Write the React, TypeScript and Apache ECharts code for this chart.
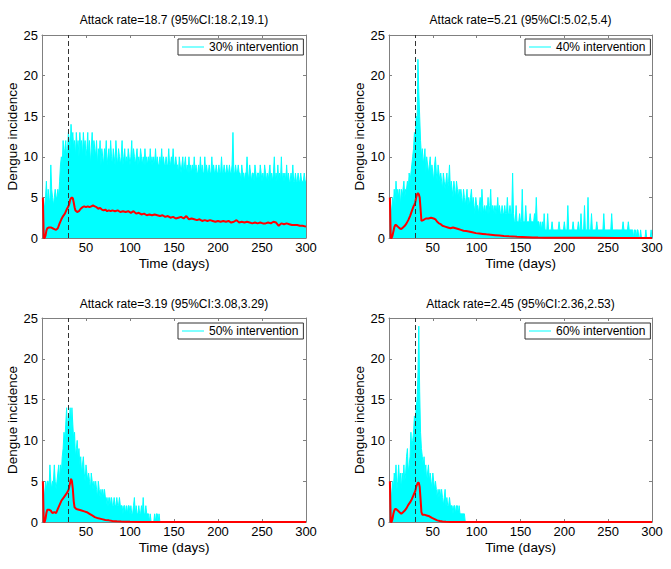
import React, { useEffect, useRef } from "react";
import * as echarts from "echarts";

// ---------- data ----------
const titles = [
  "Attack rate=18.7 (95%CI:18.2,19.1)",
  "Attack rate=5.21 (95%CI:5.02,5.4)",
  "Attack rate=3.19 (95%CI:3.08,3.29)",
  "Attack rate=2.45 (95%CI:2.36,2.53)",
];
const legendNames = ["30% intervention", "40% intervention", "50% intervention", "60% intervention"];
const xTicks = [50, 100, 150, 200, 250, 300];
const yTicks = [0, 5, 10, 15, 20, 25];
const interventionDay = 30;

// daily maximum across simulations (upper edge of the cyan band), day 1..n
const envelope30 = [
  5, 4, 4, 5, 7, 4, 6, 5, 4, 9,
  6, 5, 4, 5, 6, 5, 5, 6, 5, 7,
  9, 10, 9, 12, 10, 11, 12, 10, 11, 13,
  12, 11, 14, 12, 13, 11, 12, 10, 13, 11,
  12, 10, 13, 11, 12, 10, 13, 11, 12, 10,
  11, 13, 10, 12, 9, 11, 13, 10, 12, 11,
  10, 12, 9, 11, 10, 12, 9, 11, 10, 9,
  11, 10, 12, 9, 10, 11, 9, 12, 10, 9,
  11, 10, 9, 12, 10, 9, 11, 10, 9, 10,
  12, 9, 10, 11, 9, 10, 9, 11, 10, 9,
  10, 12, 9, 11, 10, 9, 10, 11, 9, 10,
  9, 11, 10, 9, 10, 9, 11, 9, 10, 9,
  10, 9, 11, 9, 10, 9, 10, 9, 11, 9,
  10, 9, 9, 10, 9, 11, 9, 10, 9, 9,
  10, 9, 9, 11, 9, 9, 10, 9, 11, 9,
  9, 10, 9, 9, 8, 10, 9, 8, 9, 10,
  8, 9, 10, 8, 9, 8, 10, 8, 9, 8,
  9, 8, 10, 8, 9, 8, 8, 9, 8, 10,
  8, 9, 8, 8, 10, 8, 9, 8, 8, 9,
  8, 8, 10, 8, 9, 8, 8, 9, 8, 8,
  9, 8, 8, 10, 8, 8, 9, 8, 8, 9,
  8, 8, 9, 8, 8, 9, 13, 8, 8, 9,
  8, 8, 9, 8, 8, 7, 9, 8, 8, 7,
  8, 8, 10, 8, 7, 9, 8, 7, 8, 8,
  7, 9, 8, 7, 8, 8, 7, 9, 8, 7,
  8, 7, 9, 8, 7, 8, 7, 8, 9, 7,
  8, 7, 8, 10, 7, 8, 7, 9, 7, 8,
  7, 10, 7, 8, 7, 8, 7, 9, 7, 8,
  7, 7, 8, 7, 9, 7, 7, 8, 7, 7,
  8, 7, 7, 8, 7, 7, 7, 8, 7, 7,
];
const envelope40 = [
  5, 4, 3, 5, 4, 6, 4, 7, 5, 6,
  5, 6, 4, 6, 5, 6, 7, 5, 6, 6,
  7, 6, 8, 7, 8, 9, 10, 11, 13, 12,
  15, 14, 22, 18, 15, 12, 10, 11, 9, 10,
  11, 8, 10, 9, 8, 9, 10, 8, 9, 8,
  7, 9, 10, 8, 7, 9, 8, 7, 8, 7,
  6, 8, 7, 6, 7, 8, 6, 7, 9, 6,
  7, 6, 5, 7, 6, 5, 7, 6, 5, 6,
  5, 6, 5, 4, 6, 5, 4, 5, 6, 4,
  5, 4, 5, 6, 4, 5, 4, 3, 5, 4,
  4, 3, 4, 5, 3, 6, 4, 3, 4, 3,
  4, 3, 5, 3, 4, 6, 3, 4, 3, 4,
  3, 4, 3, 5, 3, 4, 3, 3, 4, 3,
  3, 4, 3, 3, 5, 3, 3, 4, 3, 3,
  8, 3, 2, 2, 4, 2, 2, 2, 3, 2,
  2, 6, 2, 2, 2, 4, 2, 2, 2, 2,
  3, 2, 2, 2, 2, 3, 2, 5, 2, 2,
  2, 1, 2, 1, 2, 1, 3, 1, 1, 1,
  3, 1, 1, 1, 1, 2, 1, 1, 1, 1,
  1, 1, 1, 2, 1, 1, 1, 1, 1, 2,
  1, 1, 1, 4, 1, 1, 1, 1, 1, 2,
  1, 1, 1, 1, 1, 2, 1, 1, 3, 1,
  1, 1, 4, 1, 1, 1, 5, 1, 1, 1,
  3, 1, 1, 1, 1, 1, 2, 1, 1, 1,
  1, 1, 1, 1, 3, 1, 1, 1, 1, 1,
  1, 1, 1, 3, 1, 1, 1, 1, 1, 1,
  1, 1, 1, 1, 1, 1, 2, 1, 1, 1,
  1, 1, 2, 1, 1, 1, 1, 1, 0, 1,
  1, 0, 1, 1, 0, 0, 1, 0, 0, 0,
  0, 0, 1, 0, 0, 0, 0, 0, 1, 0,
];
const envelope50 = [
  5, 4, 3, 5, 4, 5, 5, 4, 7, 5,
  4, 5, 5, 7, 5, 4, 5, 6, 7, 5,
  7, 6, 8, 9, 11, 10, 12, 14, 11, 13,
  12, 14, 11, 14, 12, 10, 11, 8, 9, 10,
  8, 9, 7, 8, 6, 7, 8, 6, 5, 7,
  6, 5, 6, 5, 4, 6, 5, 4, 5, 4,
  5, 4, 3, 5, 4, 3, 4, 3, 4, 3,
  4, 3, 3, 2, 3, 2, 3, 2, 3, 2,
  2, 3, 2, 2, 3, 2, 2, 3, 2, 2,
  2, 1, 2, 2, 1, 2, 1, 2, 2, 1,
  2, 1, 1, 2, 3, 1, 2, 1, 1, 2,
  1, 1, 2, 1, 3, 1, 1, 2, 1, 1,
  1, 0, 1, 0, 0, 0, 0, 1, 0, 1,
  1, 0, 1, 0, 0,
];
const envelope60 = [
  5, 4, 3, 5, 4, 6, 5, 7, 4, 5,
  7, 5, 6, 4, 6, 5, 7, 5, 6, 8,
  9, 6, 7, 8, 11, 9, 10, 11, 13, 12,
  14, 15, 18, 24, 16, 11, 9, 8, 7, 8,
  6, 7, 5, 6, 7, 5, 6, 5, 4, 6,
  5, 4, 5, 4, 3, 4, 3, 4, 3, 4,
  3, 2, 3, 4, 2, 3, 2, 2, 3, 2,
  2, 2, 1, 2, 2, 1, 2, 2, 1, 2,
  1, 1, 1, 1, 1, 1, 0,
];

// mean incidence (red line), [day, value]
const mean30 = [
  [1, 5], [2, 0], [3, 0], [4, 0.3], [5, 0.9], [6, 1.2], [8, 1.3], [10, 1.3], [12, 1.2], [14, 1.1],
  [16, 1.0], [18, 1.2], [20, 1.8], [22, 2.3], [24, 2.7], [26, 3.0], [28, 3.5], [30, 3.9], [31, 4.2],
  [32, 4.7], [33, 4.9], [34, 5.0], [35, 4.9], [36, 4.4], [37, 3.8], [38, 3.4], [40, 3.2], [42, 3.3],
  [44, 3.6], [46, 3.8], [48, 3.9], [50, 3.8], [52, 3.9], [54, 3.8], [56, 3.9], [58, 4.0], [60, 3.9],
  [62, 3.8], [64, 3.6], [66, 3.7], [68, 3.5], [70, 3.4], [72, 3.5], [74, 3.3], [76, 3.4], [78, 3.3],
  [80, 3.4], [83, 3.3], [86, 3.4], [89, 3.2], [92, 3.3], [95, 3.2], [98, 3.3], [101, 3.1], [104, 3.3],
  [107, 3.0], [110, 3.1], [113, 2.9], [116, 3.0], [119, 2.8], [122, 2.9], [125, 2.8], [128, 2.9],
  [131, 2.8], [134, 2.7], [137, 2.8], [140, 2.6], [143, 2.7], [146, 2.5], [149, 2.6], [152, 2.4],
  [155, 2.5], [158, 2.6], [161, 2.4], [164, 2.7], [167, 2.3], [170, 2.4], [173, 2.3], [176, 2.2],
  [179, 2.3], [182, 2.1], [185, 2.2], [188, 2.1], [191, 2.2], [194, 2.1], [197, 2.0], [200, 2.1],
  [203, 2.0], [206, 2.1], [209, 2.0], [212, 2.1], [215, 1.9], [218, 2.0], [221, 2.2], [224, 1.9],
  [227, 2.0], [230, 1.9], [233, 2.0], [236, 1.9], [239, 1.8], [242, 1.9], [245, 1.8], [248, 1.9],
  [251, 1.8], [254, 1.8], [257, 1.9], [260, 1.8], [263, 2.0], [266, 1.9], [269, 1.5], [272, 1.8],
  [275, 1.7], [278, 1.8], [281, 1.7], [284, 1.6], [287, 1.6], [290, 1.6], [293, 1.5], [296, 1.5],
  [300, 1.4],
];
const mean40 = [
  [1, 5], [2, 0], [3, 0], [4, 0.3], [5, 0.8], [6, 1.3], [7, 1.6], [8, 1.6], [9, 1.5], [10, 1.4],
  [12, 1.2], [14, 1.1], [16, 1.3], [18, 1.5], [20, 1.8], [22, 2.2], [24, 2.7], [26, 3.3], [28, 3.9],
  [29, 4.1], [30, 4.4], [31, 5.0], [32, 5.4], [33, 5.5], [34, 5.4], [35, 5.0], [36, 3.6], [37, 2.1],
  [39, 2.2], [42, 2.4], [45, 2.4], [48, 2.5], [51, 2.4], [53, 2.3], [55, 2.0], [57, 1.8], [59, 1.7],
  [61, 1.5], [64, 1.4], [67, 1.3], [70, 1.2], [73, 1.3], [76, 1.2], [79, 1.1], [82, 1.0], [85, 0.9],
  [88, 0.85], [91, 0.8], [95, 0.7], [99, 0.6], [103, 0.55], [107, 0.5], [111, 0.45], [116, 0.4],
  [121, 0.35], [126, 0.3], [131, 0.25], [136, 0.22], [141, 0.2], [146, 0.15], [152, 0.13], [158, 0.1],
  [164, 0.07], [170, 0.05], [178, 0.04], [186, 0.03], [200, 0.02], [230, 0.02], [260, 0.01], [300, 0.01],
];
const mean50 = [
  [1, 5], [2, 0], [3, 0], [4, 0.4], [5, 1.1], [6, 1.5], [8, 1.5], [10, 1.4], [11, 1.2], [12, 1.1],
  [14, 1.2], [16, 1.1], [18, 1.6], [20, 2.1], [22, 2.6], [24, 2.9], [26, 3.2], [28, 3.5], [30, 3.9],
  [31, 4.3], [32, 4.8], [33, 5.3], [34, 5.0], [35, 4.1], [36, 2.6], [37, 1.8], [39, 1.6], [42, 1.5],
  [45, 1.4], [48, 1.3], [51, 1.2], [54, 1.0], [57, 0.8], [60, 0.6], [64, 0.45], [68, 0.35], [72, 0.25],
  [76, 0.2], [80, 0.12], [85, 0.08], [90, 0.05], [95, 0.03], [100, 0.02], [110, 0.01], [130, 0.005],
  [140, 0], [300, 0],
];
const mean60 = [
  [1, 5], [2, 0], [3, 0], [4, 0.4], [5, 1.0], [6, 1.4], [7, 1.6], [8, 1.6], [9, 1.5], [10, 1.4],
  [12, 1.2], [14, 1.0], [16, 1.2], [18, 1.4], [20, 1.7], [22, 2.1], [24, 2.4], [26, 2.8], [28, 3.3],
  [30, 3.8], [31, 4.3], [32, 4.6], [33, 4.8], [34, 4.8], [35, 4.3], [36, 2.8], [37, 1.2], [38, 0.9],
  [40, 0.9], [43, 0.8], [46, 0.7], [49, 0.5], [52, 0.35], [55, 0.2], [58, 0.12], [61, 0.06], [65, 0.03],
  [70, 0.01], [80, 0], [300, 0],
];

const envelopes = [envelope30, envelope40, envelope50, envelope60];
const means = [mean30, mean40, mean50, mean60];

// ---------- layout ----------
const FONT = "'Liberation Sans', Arial, Helvetica, sans-serif";
const AXIS_GRAY = "#808080";
const grids = [
  { left: 42, top: 35, width: 264, height: 203 },
  { left: 389, top: 35, width: 263, height: 203 },
  { left: 42, top: 318, width: 264, height: 204 },
  { left: 389, top: 318, width: 263, height: 204 },
];
const titleCenterY = [20, 20, 304, 304];
const legendPos = [
  { left: 178, top: 39 },
  { left: 525, top: 39 },
  { left: 178, top: 323 },
  { left: 525, top: 323 },
];

function buildOption() {
  const xAxis: any[] = [];
  const yAxis: any[] = [];
  const series: any[] = [];
  const graphic: any[] = [];
  const legend: any[] = [];
  const line = { show: true, onZero: false, lineStyle: { color: AXIS_GRAY, width: 1 } };
  const tick = { show: true, inside: true, length: 3, lineStyle: { color: AXIS_GRAY, width: 1 } };

  grids.forEach((g, i) => {
    xAxis.push({
      type: "value", gridIndex: i, min: 0, max: 300, interval: xTicks[1] - xTicks[0], position: "bottom",
      axisLine: line, axisTick: tick, splitLine: { show: false },
      axisLabel: { showMinLabel: false, color: "#000", fontSize: 13, margin: 3, fontFamily: FONT },
      name: "Time (days)", nameLocation: "middle", nameGap: 18,
      nameTextStyle: { color: "#000", fontSize: 13.5, fontFamily: FONT },
    });
    xAxis.push({
      type: "value", gridIndex: i, min: 0, max: 300, interval: 50, position: "top",
      axisLine: line, axisTick: tick, splitLine: { show: false }, axisLabel: { show: false },
    });
    yAxis.push({
      type: "value", gridIndex: i, min: yTicks[0], max: yTicks[yTicks.length - 1], interval: yTicks[1] - yTicks[0],
      position: "left", axisLine: line, axisTick: tick, splitLine: { show: false },
      axisLabel: { color: "#000", fontSize: 13, margin: 4, fontFamily: FONT },
      name: "Dengue incidence", nameLocation: "middle", nameGap: 22,
      nameTextStyle: { color: "#000", fontSize: 13.5, fontFamily: FONT },
    });
    yAxis.push({
      type: "value", gridIndex: i, min: 0, max: 25, interval: 5, position: "right",
      axisLine: line, axisTick: tick, splitLine: { show: false }, axisLabel: { show: false },
    });

    graphic.push({
      type: "text", x: g.left + g.width / 2, y: titleCenterY[i], silent: true,
      style: {
        text: titles[i], fill: "#000", fontSize: 12, fontFamily: FONT,
        align: "center", verticalAlign: "middle",
      },
    });

    legend.push({
      data: [legendNames[i]], left: legendPos[i].left, top: legendPos[i].top,
      icon: "rect", padding: [2, 5, 2, 4], itemWidth: 22, itemHeight: 1, itemGap: 0,
      itemStyle: { color: "#00ffff", borderWidth: 0 },
      borderColor: "#333", borderWidth: 1, backgroundColor: "#fff", borderRadius: 0,
      textStyle: { fontSize: 12, color: "#000", fontFamily: FONT },
      selectedMode: false,
    });

    series.push({
      name: legendNames[i], type: "line", xAxisIndex: 2 * i, yAxisIndex: 2 * i,
      data: envelopes[i].map((v, d) => [d + 1, v]),
      symbol: "none", showSymbol: false,
      lineStyle: { color: "#00ffff", width: 1 },
      itemStyle: { color: "#00ffff" },
      areaStyle: { color: "#00ffff", opacity: 1 },
      z: 2,
    });
    series.push({
      name: "mean" + i, type: "line", xAxisIndex: 2 * i, yAxisIndex: 2 * i,
      data: means[i], symbol: "none", showSymbol: false, clip: false,
      lineStyle: { color: "#ff0000", width: 2 },
      itemStyle: { color: "#ff0000" },
      z: 4,
      markLine: {
        silent: true, symbol: "none", label: { show: false },
        lineStyle: { color: "#333", width: 1, type: [5, 3] },
        data: [{ xAxis: interventionDay }],
      },
    });
  });

  return {
    animation: false,
    backgroundColor: "#fff",
    grid: grids,
    xAxis, yAxis, series, legend, graphic,
  };
}

export default function App() {
  const ref = useRef<HTMLDivElement>(null);
  useEffect(() => {
    document.body.style.margin = "0";
    const chart = echarts.init(ref.current!, null, { renderer: "svg" });
    chart.setOption(buildOption() as any);
    return () => chart.dispose();
  }, []);
  return <div ref={ref} style={{ width: 671, height: 569 }} />;
}
